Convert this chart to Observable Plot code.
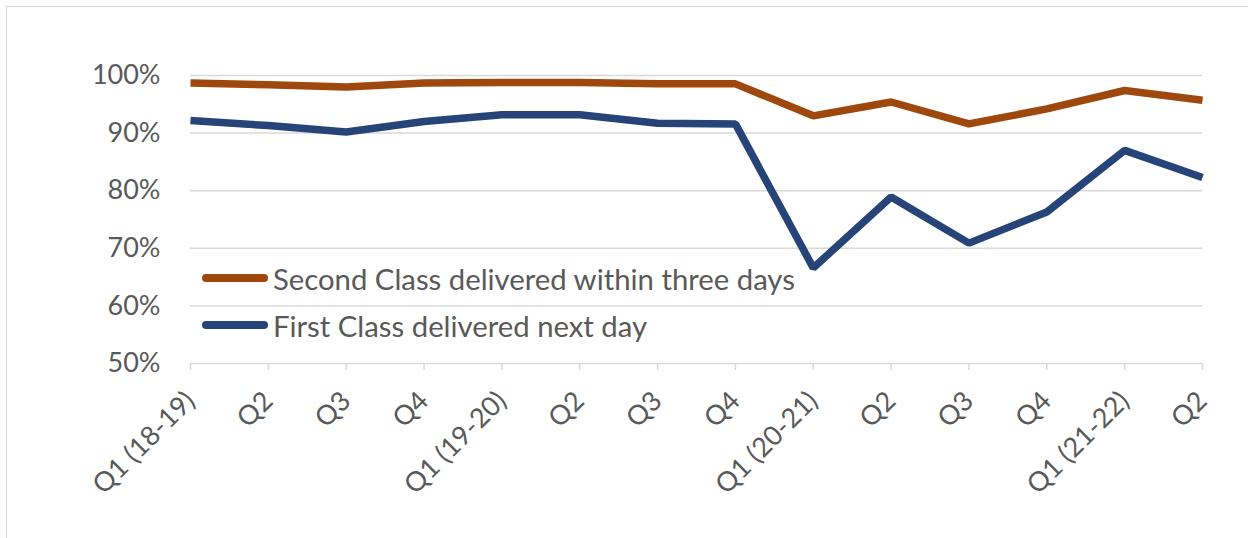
<!DOCTYPE html>
<html><head><meta charset="utf-8">
<script src="https://cdn.jsdelivr.net/npm/d3@7"></script>
<script src="https://cdn.jsdelivr.net/npm/@observablehq/plot@0.6"></script>
<style>
html,body{margin:0;padding:0;background:#fff;overflow:hidden;}
#wrap{position:relative;width:1248px;height:538px;overflow:hidden;font-family:Lato,"Open Sans",sans-serif;}
#frame{position:absolute;left:6px;top:6px;width:1400px;height:700px;border:1.5px solid #d9d9d9;box-sizing:border-box;}
#chart{position:absolute;left:0;top:0;}
.leg{position:absolute;left:202px;display:flex;align-items:center;color:#595959;font-size:29.3px;white-space:nowrap;}
.sw{width:66px;height:8px;border-radius:4px;margin-right:5px;}
</style>
</head><body>
<div id="wrap"><div id="frame"></div><div id="chart"></div></div>
<script>
const quarters = ["Q1 (18-19)","Q2","Q3","Q4","Q1 (19-20)","Q2","Q3","Q4","Q1 (20-21)","Q2","Q3","Q4","Q1 (21-22)","Q2"];
const secondClass = [98.7, 98.4, 98.0, 98.7, 98.8, 98.8, 98.55, 98.55, 93.0, 95.4, 91.6, 94.2, 97.4, 95.7];
const firstClass = [92.2, 91.3, 90.2, 92.0, 93.2, 93.2, 91.7, 91.6, 66.6, 78.9, 70.9, 76.3, 87.0, 82.3];
const seriesNames = ["Second Class delivered within three days", "First Class delivered next day"];
const seriesColors = ["#9E480E", "#264478"];
const yTicks = [50, 60, 70, 80, 90, 100];

const idx = quarters.map((_, i) => i);
const rows = [];
[secondClass, firstClass].forEach((vals, s) => vals.forEach((v, i) => rows.push({i, v, series: seriesNames[s]})));

const chart = Plot.plot({
  width: 1248, height: 538,
  marginLeft: 190, marginRight: 46, marginTop: 75, marginBottom: 175,
  style: {fontFamily: "Lato, 'Open Sans', sans-serif", background: "transparent"},
  x: {type: "point", domain: idx, padding: 0, round: false, label: null},
  y: {domain: [50, 100], label: null},
  color: {domain: seriesNames, range: seriesColors},
  marks: [
    Plot.gridY(yTicks.filter(t => t > 50), {stroke: "#d9d9d9", strokeOpacity: 1, strokeWidth: 1.5}),
    Plot.ruleY([50], {stroke: "#d9d9d9", strokeWidth: 1.5}),
    Plot.axisY(yTicks, {tickFormat: d => d + "%", tickSize: 0, tickPadding: 30, fontSize: 27, fill: "#595959", label: null}),
    Plot.axisX(idx, {tickFormat: i => quarters[i], tickRotate: -45, tickSize: 7, tickPadding: 26, stroke: "#d9d9d9", strokeWidth: 1.5, strokeOpacity: 1, fontSize: 27, fill: "#595959", textAnchor: "end", label: null}),
    Plot.line(rows, {x: "i", y: "v", z: "series", stroke: "series", strokeWidth: 7.5, strokeLinejoin: "miter", strokeLinecap: "butt"})
  ]
});
document.getElementById("chart").appendChild(chart);

const wrap = document.getElementById("wrap");
const legTops = [279, 326];
seriesNames.forEach((name, k) => {
  const d = document.createElement("div");
  d.className = "leg";
  d.style.top = (legTops[k] - 18) + "px";
  d.style.height = "34px";
  d.innerHTML = `<div class="sw" style="background:${seriesColors[k]}"></div><span>${name}</span>`;
  wrap.appendChild(d);
});
</script>
</body></html>
